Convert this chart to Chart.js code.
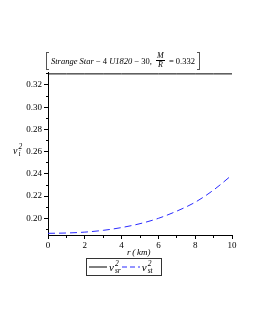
<!DOCTYPE html>
<html>
<head>
<meta charset="utf-8">
<script src="https://cdn.jsdelivr.net/npm/chart.js@4"></script>
<style>
  body { margin: 0; background: #fff; }
  #wrap { position: relative; width: 255px; height: 330px; font-family: "Liberation Serif", "DejaVu Serif", serif; color: #000; }
  canvas { position: absolute; left: 0; top: 0; }
  .ov { position: absolute; white-space: nowrap; }
  #title { left: 46px; top: 52px; height: 17px; display: flex; align-items: center; font-size: 8.5px; }
  .brk { width: 2px; height: 16px; border: 1px solid #555; }
  .brk.l { border-right: none; margin-right: 2px; }
  .brk.r { border-left: none; margin-left: 2px; }
  .frac { display: inline-flex; flex-direction: column; align-items: center; font-size: 8px; line-height: 8px; margin: 0 2px; font-style: italic; }
  .frac .n { border-bottom: 1px solid #000; padding: 0 1px; }
  #ytitle { left: 13px; top: 143px; font-size: 10px; font-style: italic; }
  #xtitle { left: 127px; top: 247px; font-size: 9px; font-style: italic; }
  #legend { left: 86px; top: 258px; width: 72px; height: 16px; border: 1px solid #333; display: flex; align-items: center; font-size: 11px; padding-left: 2px; }
  .vv { font-style: italic; display: inline-flex; align-items: center; }
  .ss { display: inline-flex; flex-direction: column; font-size: 7.5px; line-height: 7px; margin-left: 1px; }
</style>
</head>
<body>
<div id="wrap">
  <canvas id="chartStar" width="255" height="330"></canvas>
  <div class="ov" id="title">
    <span class="brk l"></span>
    <i>Strange Star</i>&nbsp;&minus;&nbsp;4&nbsp;<i>U1820</i>&nbsp;&minus;&nbsp;30,&nbsp;
    <span class="frac"><span class="n">M</span><span>R</span></span>
    &nbsp;=&nbsp;0.332
    <span class="brk r"></span>
  </div>
  <div class="ov" id="ytitle"><span class="vv">v<span class="ss"><span>2</span><span>i</span></span></span></div>
  <div class="ov" id="xtitle">r&thinsp;(&thinsp;km)</div>
  <div class="ov" id="legend"></div>
</div>
<script>
var radius = [0, 1, 2, 3, 4, 5, 6, 7, 8, 9, 10]; // r (km)
var vsr2 = [0.33, 0.33, 0.33, 0.33, 0.33, 0.33, 0.33, 0.33, 0.33, 0.33, 0.33];
var vst2 = [0.1865, 0.1868, 0.1876, 0.1892, 0.1917, 0.1952, 0.2000, 0.2065, 0.2145, 0.2255, 0.2390];
var yTicks = [0.19, 0.20, 0.21, 0.22, 0.23, 0.24, 0.25, 0.26, 0.27, 0.28, 0.29, 0.30, 0.31, 0.32, 0.33];
var xTicks = [0, 1, 2, 3, 4, 5, 6, 7, 8, 9, 10];

function pontos(ys) {
  return radius.map(function (r, i) { return { x: r, y: ys[i] }; });
}
function ehMaior(v, passo) { return Math.round(v / passo) % 2 === 0; }

var ctx = document.getElementById("chartStar").getContext("2d");
var config = {
  type: 'line',
  data: {
    datasets: [
      { label: 'sr', data: pontos(vsr2), borderColor: '#000000', borderWidth: 1, pointRadius: 0, borderDash: [] },
      { label: 'st', data: pontos(vst2), borderColor: '#2a2aff', borderWidth: 1, pointRadius: 0, borderDash: [7, 4], cubicInterpolationMode: 'monotone' }
    ]
  },
  options: {
    responsive: false,
    animation: false,
    layout: { padding: { top: 72, right: 23, left: 0, bottom: 0 } },
    plugins: { legend: { display: false }, tooltip: { enabled: false } },
    scales: {
      x: {
        type: 'linear', min: 0, max: 10,
        afterBuildTicks: function (s) { s.ticks = xTicks.map(function (v) { return { value: v }; }); },
        afterFit: function (s) { s.height = 95; },
        border: { color: '#000', width: 1 },
        grid: {
          drawOnChartArea: false, tickLength: 4, tickColor: '#000',
          tickBorderDash: function (c) { return (c.tick && !ehMaior(c.tick.value, 1)) ? [2, 10] : []; }
        },
        ticks: {
          color: '#000', padding: 1, maxRotation: 0, autoSkip: false,
          font: { family: 'Liberation Serif', size: 9 },
          callback: function (v) { return ehMaior(v, 1) ? String(v) : ''; }
        }
      },
      y: {
        type: 'linear', min: 0.185, max: 0.3317,
        afterBuildTicks: function (s) { s.ticks = yTicks.map(function (v) { return { value: v }; }); },
        afterFit: function (s) { s.width = 48; },
        border: { color: '#000', width: 1 },
        grid: {
          drawOnChartArea: false, tickLength: 4, tickColor: '#000',
          tickBorderDash: function (c) { return (c.tick && !ehMaior(c.tick.value, 0.01)) ? [2, 2] : []; },
          tickBorderDashOffset: 2
        },
        ticks: {
          color: '#000', padding: 2, autoSkip: false,
          font: { family: 'Liberation Serif', size: 9 },
          callback: function (v) { return ehMaior(v, 0.01) ? v.toFixed(2) : ''; }
        }
      }
    }
  }
};
var grafico = new Chart(ctx, config);

// legenda em HTML, montada a partir dos datasets
var leg = document.getElementById('legend');
grafico.data.datasets.forEach(function (ds) {
  var svg = '<svg width="18" height="6" style="margin-right:2px"><line x1="0" y1="3" x2="18" y2="3" stroke="' + ds.borderColor +
    '" stroke-width="1" stroke-dasharray="' + (ds.borderDash.length ? '5,3' : 'none') + '"/></svg>';
  leg.insertAdjacentHTML('beforeend', svg + '<span class="vv" style="margin-right:1px">v<span class="ss"><span>2</span><span>' + ds.label + '</span></span></span>');
});
</script>
</body>
</html>
